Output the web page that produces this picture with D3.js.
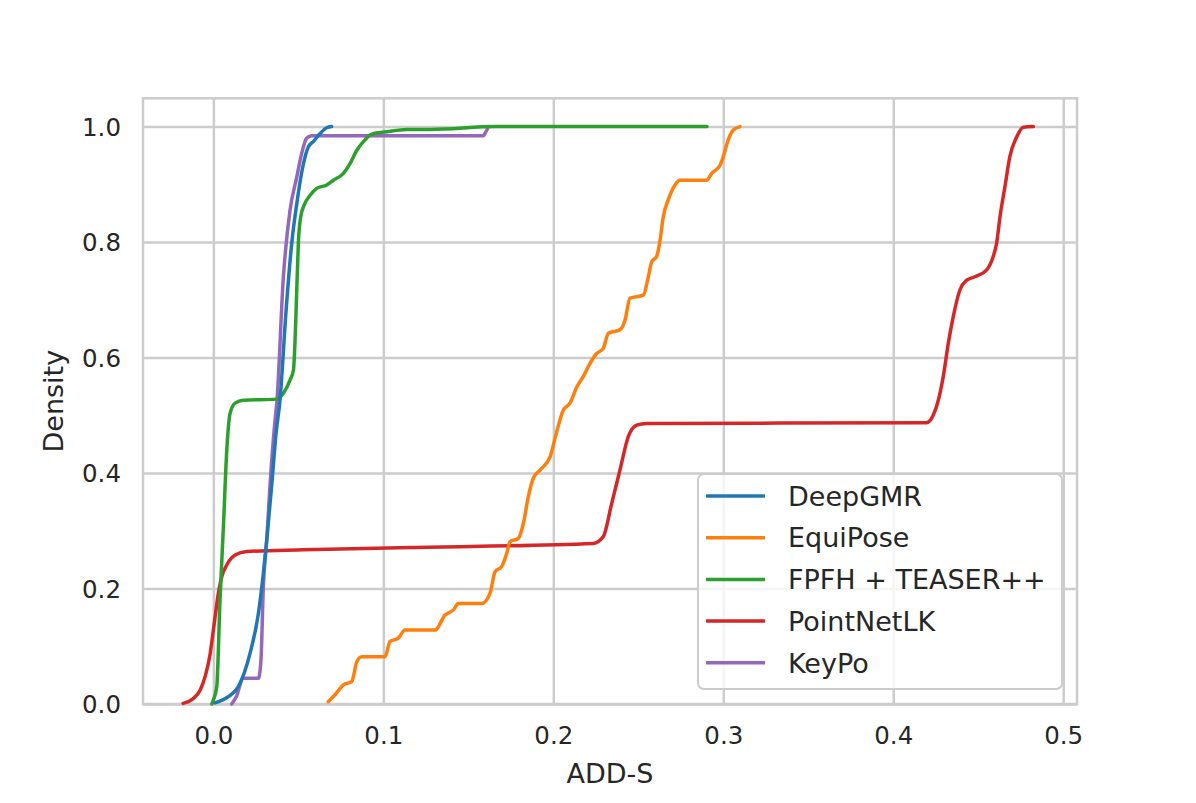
<!DOCTYPE html>
<html>
<head>
<meta charset="utf-8">
<script src="https://cdn.jsdelivr.net/npm/d3@7"></script>
<style>
  body { margin: 0; background: #fff; }
  text { font-family: "DejaVu Sans", sans-serif; fill: #262626; }
</style>
</head>
<body>
<script>
// series values (cumulative density vs ADD-S)
const seriesNames = ["DeepGMR", "EquiPose", "FPFH + TEASER++", "PointNetLK", "KeyPo"];
const seriesColors = ["#1f77b4", "#ff7f0e", "#2ca02c", "#d62728", "#9467bd"];

const deepgmrX = [0.001, 0.0088, 0.0147, 0.0216, 0.0265, 0.0294, 0.0318, 0.0344, 0.0369, 0.0392, 0.0428, 0.0461, 0.0491, 0.0526, 0.0559, 0.0588, 0.0628, 0.0667, 0.0696];
const deepgmrY = [0.002, 0.0126, 0.030, 0.088, 0.157, 0.226, 0.296, 0.382, 0.469, 0.526, 0.682, 0.798, 0.867, 0.930, 0.965, 0.974, 0.988, 0.998, 1.0];

const equiposeX = [0.0676, 0.0716, 0.0765, 0.0814, 0.0844, 0.0873, 0.101, 0.1039, 0.1088, 0.1128, 0.1304, 0.1363, 0.1412, 0.1441, 0.1579, 0.1628, 0.1657, 0.1696, 0.1726, 0.1745, 0.1794, 0.1824, 0.1853, 0.1882, 0.1922, 0.1981, 0.201, 0.2059, 0.2098, 0.2138, 0.2176, 0.2216, 0.2255, 0.2294, 0.2324, 0.2392, 0.2422, 0.2451, 0.2529, 0.2559, 0.2579, 0.2608, 0.2628, 0.2647, 0.2676, 0.2716, 0.2745, 0.2902, 0.2932, 0.2981, 0.3, 0.3029, 0.3059, 0.3098];
const equiposeY = [0.004, 0.016, 0.033, 0.039, 0.073, 0.082, 0.082, 0.108, 0.114, 0.128, 0.128, 0.154, 0.163, 0.174, 0.174, 0.192, 0.229, 0.238, 0.261, 0.281, 0.287, 0.313, 0.359, 0.391, 0.405, 0.428, 0.460, 0.509, 0.521, 0.549, 0.567, 0.590, 0.607, 0.616, 0.642, 0.648, 0.665, 0.703, 0.708, 0.740, 0.766, 0.775, 0.803, 0.844, 0.873, 0.899, 0.907, 0.907, 0.919, 0.933, 0.948, 0.977, 0.994, 1.0];

const fpfhX = [-0.0009, 0.0, 0.002, 0.0039, 0.0059, 0.0079, 0.0098, 0.0128, 0.0176, 0.0373, 0.0412, 0.0451, 0.0471, 0.048, 0.049, 0.05, 0.0514, 0.0534, 0.0569, 0.0608, 0.0667, 0.0706, 0.0765, 0.0804, 0.0844, 0.0892, 0.0932, 0.102, 0.1138, 0.1275, 0.1667, 0.2904];
const fpfhY = [0.0, 0.007, 0.030, 0.180, 0.307, 0.440, 0.503, 0.521, 0.526, 0.528, 0.538, 0.561, 0.578, 0.625, 0.711, 0.798, 0.844, 0.864, 0.881, 0.893, 0.899, 0.907, 0.919, 0.936, 0.959, 0.977, 0.987, 0.991, 0.995, 0.995, 1.0, 1.0];

const pointnetlkX = [-0.0178, -0.012, -0.0078, -0.0049, -0.002, 0.0004, 0.0028, 0.0051, 0.0081, 0.0128, 0.0196, 0.053, 0.1157, 0.2235, 0.2294, 0.2344, 0.2392, 0.2441, 0.2491, 0.2549, 0.4196, 0.4235, 0.4265, 0.4294, 0.4324, 0.4353, 0.4392, 0.4432, 0.4481, 0.455, 0.4588, 0.4608, 0.4628, 0.4657, 0.4686, 0.4726, 0.4765, 0.4824];
const pointnetlkY = [0.001, 0.009, 0.024, 0.047, 0.085, 0.137, 0.189, 0.222, 0.242, 0.258, 0.264, 0.267, 0.271, 0.278, 0.290, 0.348, 0.405, 0.463, 0.483, 0.486, 0.487, 0.500, 0.526, 0.567, 0.625, 0.671, 0.717, 0.734, 0.740, 0.752, 0.775, 0.798, 0.844, 0.896, 0.948, 0.982, 0.999, 1.0];

const keypoX = [0.0108, 0.0134, 0.0176, 0.0265, 0.028, 0.0294, 0.0314, 0.0334, 0.0363, 0.0373, 0.0412, 0.0451, 0.0491, 0.052, 0.0549, 0.0579, 0.1588, 0.16, 0.1618];
const keypoY = [0.0, 0.012, 0.0445, 0.0445, 0.076, 0.203, 0.284, 0.382, 0.492, 0.521, 0.740, 0.855, 0.913, 0.954, 0.980, 0.984, 0.984, 0.989, 1.0];

const xTicks = [0.0, 0.1, 0.2, 0.3, 0.4, 0.5];
const yTicks = [0.0, 0.2, 0.4, 0.6, 0.8, 1.0];

function main(){
    const width = 1196;
    const height = 803;
    const left = 143, right = 1077, top = 98.3, bottom = 704;

    const svg = d3.select("body").append("svg")
        .attr("width", width)
        .attr("height", height);

    const x = d3.scaleLinear().domain([-0.0414, 0.5081]).range([left, right]);
    const y = d3.scaleLinear().domain([0, 1.049]).range([bottom, top]);

    // grid + tick labels
    const gx = svg.append("g")
        .attr("transform", "translate(0," + bottom + ")")
        .call(d3.axisBottom(x).tickValues(xTicks).tickSize(-(bottom - top)).tickFormat(d3.format(".1f")));
    gx.select(".domain").remove();
    gx.selectAll("line").attr("stroke", "#cccccc").attr("stroke-width", 2.5);
    gx.selectAll("text")
        .attr("y", 40).attr("dy", null)
        .style("font-size", "24.5px").attr("fill", "#262626");

    const gy = svg.append("g")
        .attr("transform", "translate(" + left + ",0)")
        .call(d3.axisLeft(y).tickValues(yTicks).tickSize(-(right - left)).tickFormat(d3.format(".1f")));
    gy.select(".domain").remove();
    gy.selectAll("line").attr("stroke", "#cccccc").attr("stroke-width", 2.5);
    gy.selectAll("text")
        .attr("x", -22).attr("dy", "0.36em")
        .style("font-size", "24.5px").attr("fill", "#262626");

    // spines
    svg.append("rect")
        .attr("x", left).attr("y", top)
        .attr("width", right - left).attr("height", bottom - top)
        .attr("fill", "none").attr("stroke", "#cccccc").attr("stroke-width", 2.5);

    // axis labels
    svg.append("text")
        .attr("x", (left + right) / 2).attr("y", 782.5)
        .attr("text-anchor", "middle")
        .style("font-size", "27px")
        .text("ADD-S");
    svg.append("text")
        .attr("transform", "translate(63," + ((top + bottom) / 2) + ") rotate(-90)")
        .attr("text-anchor", "middle")
        .style("font-size", "27px")
        .text("Density");

    const series = [
        {name: seriesNames[0], color: seriesColors[0], xs: deepgmrX, ys: deepgmrY},
        {name: seriesNames[1], color: seriesColors[1], xs: equiposeX, ys: equiposeY},
        {name: seriesNames[2], color: seriesColors[2], xs: fpfhX, ys: fpfhY},
        {name: seriesNames[3], color: seriesColors[3], xs: pointnetlkX, ys: pointnetlkY},
        {name: seriesNames[4], color: seriesColors[4], xs: keypoX, ys: keypoY}
    ];
    series.forEach(function(s){
        s.points = s.xs.map(function(v, i){ return [v, s.ys[i]]; });
    });

    const line = d3.line()
        .x(function(d){ return x(d[0]); })
        .y(function(d){ return y(d[1]); })
        .curve(d3.curveMonotoneX);

    // seaborn draws hue levels in reverse, so the first one ends up on top
    svg.append("g").selectAll("path")
        .data(series.slice().reverse())
        .enter().append("path")
        .attr("d", function(d){ return line(d.points); })
        .attr("fill", "none")
        .attr("stroke", function(d){ return d.color; })
        .attr("stroke-width", 3.5)
        .attr("stroke-linejoin", "round")
        .attr("stroke-linecap", "round");

    // legend
    const lg = svg.append("g");
    lg.append("rect")
        .attr("x", 698).attr("y", 474)
        .attr("width", 364).attr("height", 215)
        .attr("rx", 6).attr("ry", 6)
        .attr("fill", "#ffffff").attr("fill-opacity", 0.8)
        .attr("stroke", "#cccccc").attr("stroke-width", 2);

    const rows = lg.selectAll(".entry")
        .data(series)
        .enter().append("g")
        .attr("class", "entry")
        .attr("transform", function(d, i){ return "translate(0," + (496 + i * 41.7) + ")"; });
    rows.append("line")
        .attr("x1", 706).attr("x2", 765)
        .attr("stroke", function(d){ return d.color; })
        .attr("stroke-width", 3.5);
    rows.append("text")
        .attr("x", 788)
        .attr("dy", "0.36em")
        .style("font-size", "27px")
        .text(function(d){ return d.name; });
}
main();
</script>
</body>
</html>
